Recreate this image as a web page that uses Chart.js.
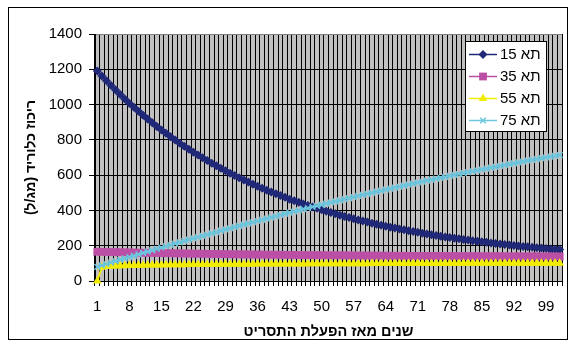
<!DOCTYPE html>
<html>
<head>
<meta charset="utf-8">
<script src="https://cdn.jsdelivr.net/npm/chart.js@4/dist/chart.umd.min.js"></script>
<style>
  html, body { margin: 0; padding: 0; background: #ffffff; }
  #wrap { position: relative; width: 576px; height: 344px; }
</style>
</head>
<body>
<div id="wrap"><canvas id="c" width="576" height="344" dir="rtl"></canvas></div>
<script>
// Years since the scenario started (category axis)
const years = [
  1,2,3,4,5,6,7,8,9,10,11,12,13,14,15,16,17,18,19,20,
  21,22,23,24,25,26,27,28,29,30,31,32,33,34,35,36,37,38,39,40,
  41,42,43,44,45,46,47,48,49,50,51,52,53,54,55,56,57,58,59,60,
  61,62,63,64,65,66,67,68,69,70,71,72,73,74,75,76,77,78,79,80,
  81,82,83,84,85,86,87,88,89,90,91,92,93,94,95,96,97,98,99,100,
  101,102
];

// Category labels that are printed under the axis
const xTickLabels = ['1','8','15','22','29','36','43','50','57','64','71','78','85','92','99'];
const yTickValues = [0, 200, 400, 600, 800, 1000, 1200, 1400];

const seriesNames = ['תא 15', 'תא 35', 'תא 55', 'תא 75'];

// Chloride concentration (mg/l) per cell
const cell15 = [
  1190,1162,1135,1108,1082,1057,1032,1008,985,962,
  940,918,897,876,856,837,818,799,781,764,
  747,730,714,698,683,668,653,639,625,611,
  598,585,573,561,549,537,526,515,504,494,
  484,474,464,455,446,437,428,420,412,404,
  396,388,381,373,366,360,353,346,340,334,
  328,322,316,311,305,300,295,290,285,280,
  276,271,267,262,258,254,250,246,242,239,
  235,232,228,225,222,219,216,213,210,207,
  204,201,199,196,194,191,189,187,184,182,
  180,178
];

const cell35 = [
  166.0,165.4,164.7,164.1,163.5,163.0,162.4,161.8,161.3,160.7,
  160.2,159.7,159.2,158.7,158.2,157.7,157.3,156.8,156.4,155.9,
  155.5,155.1,154.7,154.3,153.9,153.5,153.1,152.7,152.4,152.0,
  151.7,151.3,151.0,150.7,150.3,150.0,149.7,149.4,149.1,148.8,
  148.5,148.3,148.0,147.7,147.5,147.2,147.0,146.7,146.5,146.2,
  146.0,145.8,145.6,145.4,145.1,144.9,144.7,144.5,144.3,144.1,
  144.0,143.8,143.6,143.4,143.2,143.1,142.9,142.8,142.6,142.4,
  142.3,142.1,142.0,141.8,141.7,141.6,141.4,141.3,141.2,141.0,
  140.9,140.8,140.7,140.6,140.5,140.3,140.2,140.1,140.0,139.9,
  139.8,139.7,139.6,139.5,139.4,139.3,139.3,139.2,139.1,139.0,
  138.9,138.8
];

const cell55 = [
  0,78.0,81.5,83.5,84.9,86.0,87.0,87.7,88.4,89.0,
  89.5,90.0,90.4,90.8,91.2,91.5,91.9,92.2,92.5,92.7,
  93.0,93.2,93.5,93.7,93.9,94.1,94.3,94.5,94.7,94.8,
  95.0,95.2,95.3,95.5,95.6,95.8,95.9,96.1,96.2,96.3,
  96.4,96.6,96.7,96.8,96.9,97.0,97.1,97.3,97.4,97.5,
  97.6,97.7,97.8,97.9,97.9,98.0,98.1,98.2,98.3,98.4,
  98.5,98.6,98.6,98.7,98.8,98.9,98.9,99.0,99.1,99.2,
  99.2,99.3,99.4,99.5,99.5,99.6,99.7,99.7,99.8,99.8,
  99.9,100.0,100.0,100.1,100.2,100.2,100.3,100.3,100.4,100.4,
  100.5,100.6,100.6,100.7,100.7,100.8,100.8,100.9,100.9,101.0,
  101.0,101.1
];

const cell75 = [
  80,88,96,104,112,120,128,136,143,151,
  159,166,174,182,189,197,204,212,219,227,
  234,241,249,256,263,270,277,285,292,299,
  306,313,320,327,333,340,347,354,361,367,
  374,381,387,394,400,407,413,420,426,432,
  439,445,451,457,464,470,476,482,488,494,
  500,506,512,518,523,529,535,541,546,552,
  558,563,569,574,580,585,590,596,601,606,
  612,617,622,627,632,637,642,647,652,657,
  662,667,672,677,682,686,691,696,700,705,
  709,714
];

const FONT = "'Liberation Sans', Arial, 'DejaVu Sans', sans-serif";
const colors = ['#202878', '#BB4FA5', '#F2EC00', '#6CC6DE'];
const markers = ['rectRot', 'rect', 'triangle', 'crossRot'];
const radii = [4.5, 5.5, 5, 4];

// Outer frame, white background and grey plot area
const framePlugin = {
  id: 'frame',
  beforeDraw(chart) {
    const ctx = chart.ctx;
    const a = chart.chartArea;
    ctx.save();
    ctx.fillStyle = '#ffffff';
    ctx.fillRect(0, 0, chart.width, chart.height);
    ctx.strokeStyle = '#000000';
    ctx.lineWidth = 1;
    ctx.strokeRect(8.5, 7.5, 559, 332);
    ctx.fillStyle = '#C0C0C0';
    ctx.fillRect(a.left, a.top, a.right - a.left, a.bottom - a.top);
    ctx.restore();
  }
};

function drawMarker(ctx, kind, x, y, r, color) {
  ctx.save();
  ctx.fillStyle = color;
  ctx.strokeStyle = color;
  ctx.beginPath();
  if (kind === 'rectRot') {
    ctx.moveTo(x, y - r); ctx.lineTo(x + r, y); ctx.lineTo(x, y + r); ctx.lineTo(x - r, y);
    ctx.closePath(); ctx.fill();
  } else if (kind === 'rect') {
    const s = r * Math.SQRT1_2;
    ctx.rect(x - s, y - s, 2 * s, 2 * s); ctx.fill();
  } else if (kind === 'triangle') {
    ctx.moveTo(x, y - r);
    ctx.lineTo(x + r * Math.sin(2 * Math.PI / 3), y - r * Math.cos(2 * Math.PI / 3));
    ctx.lineTo(x + r * Math.sin(4 * Math.PI / 3), y - r * Math.cos(4 * Math.PI / 3));
    ctx.closePath(); ctx.fill();
  } else {
    const s = r * Math.SQRT1_2;
    ctx.lineWidth = 1.5;
    ctx.moveTo(x - s, y - s); ctx.lineTo(x + s, y + s);
    ctx.moveTo(x + s, y - s); ctx.lineTo(x - s, y + s);
    ctx.stroke();
  }
  ctx.restore();
}

// Excel-style legend: a short line with the series marker, then the name
const legendPlugin = {
  id: 'boxLegend',
  afterDatasetsDraw(chart) {
    const ctx = chart.ctx;
    const bx = 465.5, by = 41.5, bw = 81, bh = 90;
    ctx.save();
    ctx.fillStyle = '#ffffff';
    ctx.fillRect(bx, by, bw, bh);
    ctx.strokeStyle = '#000000';
    ctx.lineWidth = 1;
    ctx.strokeRect(bx, by, bw, bh);
    ctx.font = '15px ' + FONT;
    ctx.textBaseline = 'middle';
    ctx.textAlign = 'left';
    chart.data.datasets.forEach((ds, i) => {
      const cy = 54.5 + i * 22;
      ctx.strokeStyle = colors[i];
      ctx.lineWidth = 1.5;
      ctx.beginPath();
      ctx.moveTo(469, cy);
      ctx.lineTo(497, cy);
      ctx.stroke();
      drawMarker(ctx, markers[i], 483, cy, radii[i], colors[i]);
      ctx.fillStyle = '#000000';
      ctx.fillText(ds.label, 500, cy + 0.5);
    });
    ctx.restore();
  }
};

function makeSet(i, data, order) {
  return {
    label: seriesNames[i],
    data: data,
    borderColor: colors[i],
    backgroundColor: colors[i],
    pointBackgroundColor: colors[i],
    pointBorderColor: colors[i],
    pointStyle: markers[i],
    pointRadius: radii[i],
    pointBorderWidth: markers[i] === 'crossRot' ? 1.5 : 0,
    borderWidth: 2,
    tension: 0,
    clip: false,
    order: order
  };
}

new Chart(document.getElementById('c'), {
  type: 'line',
  data: {
    labels: years.map(String),
    datasets: [
      makeSet(0, cell15, 3),
      makeSet(1, cell35, 2),
      makeSet(2, cell55, 1),
      makeSet(3, cell75, 0)
    ]
  },
  options: {
    responsive: false,
    animation: false,
    devicePixelRatio: 1,
    layout: { padding: { left: 0, top: 34, right: 14, bottom: 0 } },
    plugins: { legend: { display: false }, tooltip: { enabled: false } },
    scales: {
      x: {
        type: 'category',
        offset: true,
        afterFit(s) { s.height = 63; },
        grid: {
          offset: true,
          color: (c) => (c.index >= years.length ? '#808080' : '#000000'),
          lineWidth: 1,
          drawTicks: true,
          tickLength: 5,
          tickColor: '#000000'
        },
        border: { color: '#000000', width: 1 },
        ticks: {
          autoSkip: false,
          maxRotation: 0,
          minRotation: 0,
          padding: 12,
          color: '#000000',
          font: { family: FONT, size: 15 },
          callback: function (v) {
            const lab = this.getLabelForValue(v);
            return xTickLabels.includes(lab) ? lab : '';
          }
        },
        title: {
          display: true,
          text: 'שנים מאז הפעלת התסריט',
          color: '#000000',
          font: { family: FONT, size: 14.5, weight: 'bold' },
          padding: { top: 0, bottom: 3 }
        }
      },
      y: {
        min: 0,
        max: 1400,
        afterFit(s) { s.width = 95; },
        afterBuildTicks(s) { s.ticks = yTickValues.map(v => ({ value: v })); },
        grid: {
          color: (c) => (c.tick && c.tick.value === 1400 ? '#808080' : '#000000'),
          lineWidth: 1,
          drawTicks: true,
          tickLength: 6,
          tickColor: '#000000'
        },
        border: { color: '#000000', width: 1 },
        ticks: {
          padding: 7,
          color: '#000000',
          font: { family: FONT, size: 15 },
          callback: (v) => String(v)
        },
        title: {
          display: true,
          text: 'ריכוז כלוריד (מג/ל)',
          color: '#000000',
          font: { family: FONT, size: 14, weight: 'bold' },
          padding: { top: 23, bottom: 0 }
        }
      }
    }
  },
  plugins: [framePlugin, legendPlugin]
});
</script>
</body>
</html>
